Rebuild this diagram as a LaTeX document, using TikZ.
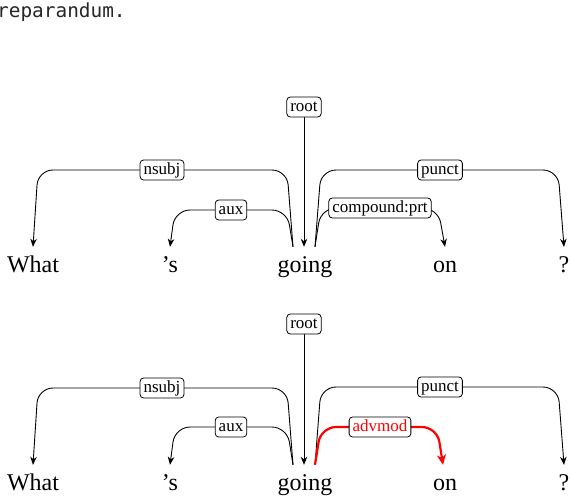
\documentclass[tikz,border=0pt]{standalone}
\usepackage{fontspec}
\setmainfont{Liberation Serif}
\newfontfamily\monofnt{DejaVu Sans Mono}
\usetikzlibrary{arrows.meta}
\pgfdeclarelayer{bg}
\pgfsetlayers{bg,main}
\begin{document}
\begin{tikzpicture}[x=1pt,y=-1pt,
  word/.style={font=\fontsize{24}{28}\selectfont, anchor=base, text height=22pt, text depth=6pt, inner ysep=3pt, inner xsep=0pt},
  lab/.style={draw, line width=0.8pt, rounded corners=3.5pt, fill=white, font=\fontsize{17}{20}\selectfont, text height=12pt, text depth=4pt, inner ysep=2pt, inner xsep=3.5pt},
  dep/.style={draw, line width=0.9pt, rounded corners=15pt, -{Stealth[length=8pt,width=6.5pt,inset=2.5pt]}},
  reddep/.style={draw=red, line width=2.2pt, rounded corners=15pt, -{Stealth[length=10pt,width=9pt,inset=3pt]}}
]
\useasboundingbox (0,0) rectangle (570,499);
\node[font=\monofnt\fontsize{19.4}{22}\selectfont, anchor=base west, inner sep=0pt, text=black!85] (frag) at (-3,17) {reparandum.};

% ---------- top tree ----------
\node[word] (What1) at (33,272) {What};
\node[word] (s1) at (170,272) {’s};
\node[word] (going1) at (305,272) {going};
\node[word] (on1) at (445,272) {on};
\node[word] (q1) at (564,272) {?};

\node[lab] (root1) at (304,107) {root};
\node[lab] (nsubj1) at (162,170) {nsubj};
\node[lab] (aux1) at (231,210) {aux};
\node[lab] (punct1) at (440,170) {punct};
\node[lab] (cprt1) at (380,208) {compound:prt};

\begin{pgfonlayer}{bg}
\draw[dep] (root1) -- (root1 |- going1.north);
\draw[dep] ([xshift=-12pt]going1.north) -- (287,170) -- (nsubj1.center) -- (38,170) -- (What1.north);
\draw[dep] ([xshift=-12pt]going1.north) -- (287,210) -- (aux1.center) -- (175,210) -- (s1.north);
\draw[dep] ([xshift=10pt]going1.north) -- (321,170) -- (punct1.center) -- (558,170) -- (q1.north);
\draw[dep] ([xshift=10pt]going1.north) -- (321,208) -- (cprt1.center) -- (438,208) -- (on1.north);
\end{pgfonlayer}

% ---------- bottom tree ----------
\node[word] (What2) at (33,490) {What};
\node[word] (s2) at (170,490) {’s};
\node[word] (going2) at (305,490) {going};
\node[word] (on2) at (445,490) {on};
\node[word] (q2) at (564,490) {?};

\node[lab] (root2) at (304,324) {root};
\node[lab] (nsubj2) at (162,388) {nsubj};
\node[lab] (aux2) at (231,427) {aux};
\node[lab] (punct2) at (440,387) {punct};
\node[lab, text=red] (advmod2) at (380,427) {advmod};

\begin{pgfonlayer}{bg}
\draw[dep] (root2) -- (root2 |- going2.north);
\draw[dep] ([xshift=-12pt]going2.north) -- (287,388) -- (nsubj2.center) -- (38,388) -- (What2.north);
\draw[dep] ([xshift=-12pt]going2.north) -- (287,427) -- (aux2.center) -- (175,427) -- (s2.north);
\draw[dep] ([xshift=10pt]going2.north) -- (321,387) -- (punct2.center) -- (558,387) -- (q2.north);
\draw[reddep] ([xshift=10pt]going2.north) -- (321,427) -- (advmod2.center) -- (437,427) -- ([xshift=-2pt]on2.north);
\end{pgfonlayer}
\end{tikzpicture}
\end{document}
